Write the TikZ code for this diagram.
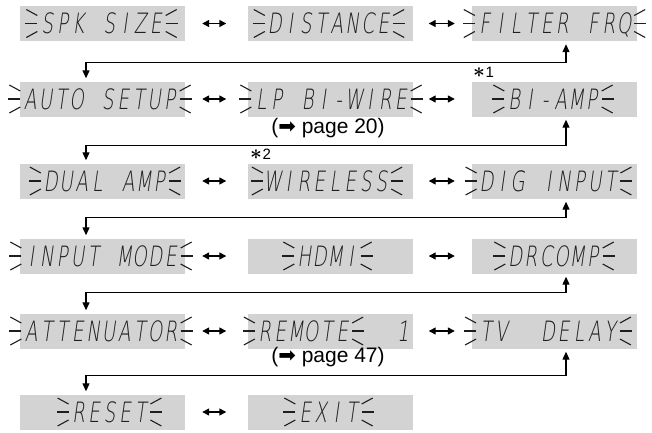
\documentclass[tikz,border=0pt]{standalone}
\usepackage{fontspec}
\setmainfont{Liberation Sans}
\newfontfamily\lcdfont[Extension=.ttf,FakeSlant=0.14,FakeStretch=0.66]{DejaVuSans-ExtraLight}
\newfontfamily\symfont{DejaVu Sans}
\usetikzlibrary{arrows.meta}
\definecolor{boxgray}{RGB}{211,211,211}
\definecolor{lcdink}{RGB}{30,30,30}
\newcommand\lcdcell[1]{\makebox[15.5bp][c]{#1}}
\def\lcdloop#1{\ifx#1\relax\else\lcdcell{#1}\expandafter\lcdloop\fi}
\newcommand\lcdtext[1]{\lcdloop#1\relax}
\newcommand\noteast{{\fontsize{22bp}{22bp}\selectfont\boldmath$\ast$}}
\tikzset{
  lcdbox/.style={fill=boxgray, draw=none, minimum width=165bp, minimum height=35bp, inner sep=0pt},
  lcd/.style={inner sep=0pt, font=\lcdfont\fontsize{28bp}{28bp}\selectfont, text height=20.4bp, text depth=0pt, text=lcdink},
  ray/.style={line width=1.1bp, draw=lcdink},
  swaparrow/.style={line width=1.4bp, {Triangle[length=7bp,width=7bp]}-{Triangle[length=7bp,width=7bp]}},
  leftpair/.style={shorten <=17bp, shorten >=21bp},
  rightpair/.style={shorten <=16bp, shorten >=17bp},
  ret/.style={line width=1.2bp, {Triangle[length=8bp,width=7bp]}-{Triangle[length=8bp,width=7bp]}, shorten <=3bp, shorten >=3bp},
  reftext/.style={font=\fontsize{21bp}{24bp}\selectfont, inner sep=0pt},
  startext/.style={font=\fontsize{15bp}{17bp}\selectfont, inner sep=0pt, anchor=base west},
}
\newcommand\lcdflash[1]{%
  \draw[ray] ([xshift=-2bp]#1.west) -- ++(-12,0);
  \draw[ray] ([xshift=-2bp]#1.west) ++(0,-8) -- ++(-11,-6);
  \draw[ray] ([xshift=-2bp]#1.west) ++(0,8) -- ++(-11,6);
  \draw[ray] ([xshift=2bp]#1.east) -- ++(12,0);
  \draw[ray] ([xshift=2bp]#1.east) ++(0,-8) -- ++(11,-6);
  \draw[ray] ([xshift=2bp]#1.east) ++(0,8) -- ++(11,6);
}
\begin{document}
\begin{tikzpicture}[x=1bp,y=-1bp]
\useasboundingbox (0,0) rectangle (652,432);
% boxes
\node[lcdbox] (b11) at (102.5,23.5) {};
\node[lcdbox] (b12) at (330,23.5) {};
\node[lcdbox] (b13) at (554.5,23.5) {};
\node[lcdbox] (b21) at (102.5,99) {};
\node[lcdbox] (b22) at (330,99) {};
\node[lcdbox] (b23) at (554.5,99) {};
\node[lcdbox] (b31) at (102.5,181) {};
\node[lcdbox] (b32) at (330,181) {};
\node[lcdbox] (b33) at (554.5,181) {};
\node[lcdbox] (b41) at (102.5,256) {};
\node[lcdbox] (b42) at (330,256) {};
\node[lcdbox] (b43) at (554.5,256) {};
\node[lcdbox] (b51) at (102.5,331) {};
\node[lcdbox] (b52) at (330,331) {};
\node[lcdbox] (b53) at (554.5,331) {};
\node[lcdbox] (b61) at (102.5,412) {};
\node[lcdbox] (b62) at (330,412) {};
% display texts
\node[lcd] (t11) at (101.5,23.5) {\lcdtext{SPK~SIZE}};
\node[lcd] (t12) at (329,23.5) {\lcdtext{DISTANCE}};
\node[lcd] (t13) at (554.5,23.5) {\lcdtext{FILTER~FRQ}};
\node[lcd] (t21) at (100,99) {\lcdtext{AUTO~SETUP}};
\node[lcd] (t22) at (331,99) {\lcdtext{LP~BI-WIRE}};
\node[lcd] (t23) at (553,99) {\lcdtext{BI-AMP}};
\node[lcd] (t31) at (105,181) {\lcdtext{DUAL~AMP}};
\node[lcd] (t32) at (327,181) {\lcdtext{WIRELESS}};
\node[lcd] (t33) at (548.5,181) {\lcdtext{DIG~INPUT}};
\node[lcd] (t41) at (101,256) {\lcdtext{INPUT~MODE}};
\node[lcd] (t42) at (327.5,256) {\lcdtext{HDMI}};
\node[lcd] (t43) at (554,256) {\lcdtext{DRCOMP}};
\node[lcd] (t51) at (101,331) {\lcdtext{ATTENUATOR}};
\node[lcd] (t52) at (303.5,331) {\lcdtext{REMOTE}};
\node[lcd] (t52n) at (403,331) {\lcdtext{1}};
\node[lcd] (t53) at (548,331) {\lcdtext{TV~~DELAY}};
\node[lcd] (t61) at (109.5,412) {\lcdtext{RESET}};
\node[lcd] (t62) at (328.5,412) {\lcdtext{EXIT}};
\foreach \t in {t11,t12,t13,t21,t22,t23,t31,t32,t33,t41,t42,t43,t51,t52,t53,t61,t62}{\lcdflash{\t}}
% notes
\node[reftext] (p20) at (328,128) {({\symfont ➡} page 20)};
\node[reftext] (p47) at (328,357) {({\symfont ➡} page 47)};
\node[startext] (s1) at (473,77) {\noteast\kern0.5bp 1};
\node[startext] (s2) at (250,159) {\noteast\kern0.5bp 2};
% swap arrows
\foreach \r in {1,2,3,4,5}{
  \draw[swaparrow,leftpair] (b\r1.east) -- (b\r2.west);
  \draw[swaparrow,rightpair] (b\r2.east) -- (b\r3.west);
}
\draw[swaparrow,leftpair] (b61.east) -- (b62.west);
% return connectors
\draw[ret] ([xshift=11.5bp]b13.south) -- ++(0,21) -| ([xshift=-16.5bp]b21.north);
\draw[ret] ([xshift=11.5bp]b23.south) -- ++(0,28.5) -| ([xshift=-16.5bp]b31.north);
\draw[ret] ([xshift=11.5bp]b33.south) -- ++(0,18.5) -| ([xshift=-16.5bp]b41.north);
\draw[ret] ([xshift=11.5bp]b43.south) -- ++(0,18.5) -| ([xshift=-16.5bp]b51.north);
\draw[ret] ([xshift=11.5bp]b53.south) -- ++(0,26.5) -| ([xshift=-16.5bp]b61.north);
\end{tikzpicture}
\end{document}
